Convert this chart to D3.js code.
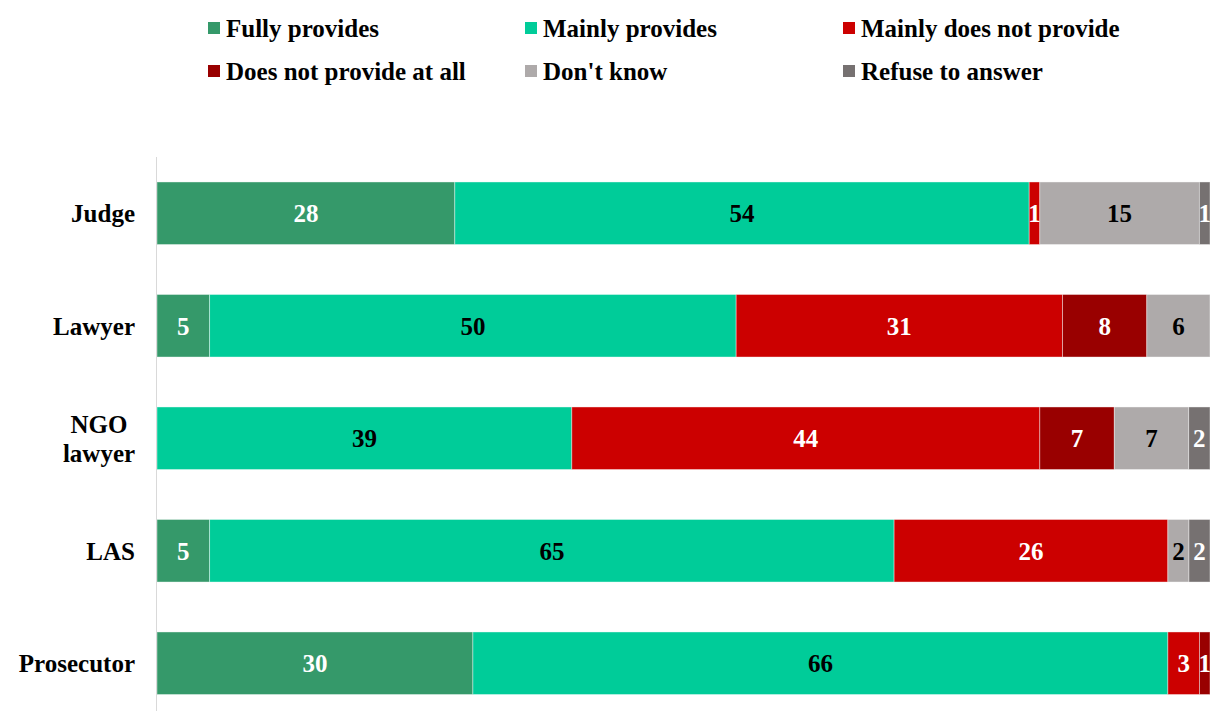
<!DOCTYPE html>
<html>
<head>
<meta charset="utf-8">
<script src="https://cdn.jsdelivr.net/npm/d3@7"></script>
<style>
  html, body { margin: 0; padding: 0; background: #fff; }
  svg { display: block; }
  text { font-family: "Liberation Serif", "Times New Roman", serif; font-weight: bold; }
</style>
</head>
<body>
<svg id="chart" width="1225" height="711"></svg>
<script>
// Respondent groups (top to bottom)
const categories = ["Judge", "Lawyer", "NGO lawyer", "LAS", "Prosecutor"];

// Answer options, in stacking order
const seriesNames = ["Fully provides", "Mainly provides", "Mainly does not provide",
                     "Does not provide at all", "Don't know", "Refuse to answer"];

// Percent values per answer option, one entry per respondent group
const fullyProvides     = [28, 5, 0, 5, 30];
const mainlyProvides    = [54, 50, 39, 65, 66];
const mainlyDoesNot     = [1, 31, 44, 26, 3];
const doesNotAtAll      = [0, 8, 7, 0, 1];
const dontKnow          = [15, 6, 7, 2, 0];
const refuseToAnswer    = [1, 0, 2, 2, 0];

const seriesValues = [fullyProvides, mainlyProvides, mainlyDoesNot, doesNotAtAll, dontKnow, refuseToAnswer];

const colors = ["#35996a", "#00cc99", "#cc0000", "#990000", "#aeaaaa", "#767171"];
const labelColors = ["#fff", "#000", "#fff", "#fff", "#000", "#fff"];

const FONT = 25;

// Build rows for the stack
const rows = categories.map((c, i) => {
  const r = { category: c };
  seriesNames.forEach((s, j) => { r[s] = seriesValues[j][i]; });
  return r;
});

const stack = d3.stack().keys(seriesNames).offset(d3.stackOffsetExpand);
const layers = stack(rows);

const svg = d3.select("#chart");
const plot = { left: 157, right: 1210, top: 157, bottom: 719.5 };

const x = d3.scaleLinear().domain([0, 1]).range([plot.left, plot.right]);
const y = d3.scaleBand().domain(categories).range([plot.top, plot.bottom])
  .paddingInner(0.444).paddingOuter(0.222);

// Bars
const g = svg.append("g");
layers.forEach((layer, j) => {
  const lg = g.append("g");
  const segs = layer.filter(d => d[1] - d[0] > 0);
  lg.selectAll("rect")
    .data(segs)
    .join("rect")
    .attr("x", d => x(d[0]))
    .attr("y", d => y(d.data.category))
    .attr("width", d => x(d[1]) - x(d[0]))
    .attr("height", y.bandwidth())
    .attr("fill", colors[j])
    .attr("stroke", "#ffffff")
    .attr("stroke-opacity", 0.5)
    .attr("stroke-width", 0.8);

  lg.selectAll("text")
    .data(segs)
    .join("text")
    .attr("x", d => (x(d[0]) + x(d[1])) / 2)
    .attr("y", d => y(d.data.category) + y.bandwidth() / 2)
    .attr("dy", "0.35em")
    .attr("text-anchor", "middle")
    .attr("font-size", FONT)
    .attr("fill", labelColors[j])
    .text(d => d.data[seriesNames[j]]);
});

// Vertical category axis line
svg.append("line")
  .attr("x1", plot.left - 0.5).attr("x2", plot.left - 0.5)
  .attr("y1", plot.top).attr("y2", 711)
  .attr("stroke", "#d9d9d9").attr("stroke-width", 1);

// Category labels (wrapped labels are centred line by line)
categories.forEach(c => {
  const cy = y(c) + y.bandwidth() / 2;
  const words = c.split(" ");
  if (words.length === 1) {
    svg.append("text")
      .attr("x", 135).attr("y", cy).attr("dy", "0.35em")
      .attr("text-anchor", "end").attr("font-size", FONT).attr("fill", "#000")
      .text(c);
  } else {
    const t = svg.append("text")
      .attr("text-anchor", "middle").attr("font-size", FONT).attr("fill", "#000");
    words.forEach((w, k) => {
      t.append("tspan").attr("x", 99)
        .attr("y", cy + (k - (words.length - 1) / 2) * 29)
        .attr("dy", "0.35em").text(w);
    });
  }
});

// Legend: three columns, two rows
const legendCols = [226, 543, 861];
const legendRows = [28, 71];
seriesNames.forEach((s, j) => {
  const lx = legendCols[j % 3];
  const ly = legendRows[Math.floor(j / 3)];
  svg.append("rect")
    .attr("x", lx - 18).attr("y", ly - 6)
    .attr("width", 12).attr("height", 12)
    .attr("fill", colors[j]);
  svg.append("text")
    .attr("x", lx).attr("y", ly).attr("dy", "0.35em")
    .attr("font-size", FONT).attr("fill", "#000")
    .text(s);
});
</script>
</body>
</html>
